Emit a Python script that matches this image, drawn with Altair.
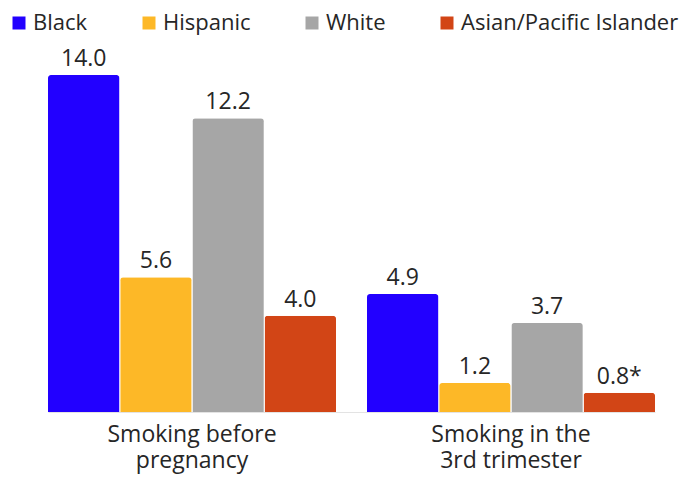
import altair as alt
import pandas as pd

groups = ["Smoking before|pregnancy", "Smoking in the|3rd trimester"]
series = ["Black", "Hispanic", "White", "Asian/Pacific Islander"]
values_before = [14.0, 5.6, 12.2, 4.0]
values_third = [4.9, 1.2, 3.7, 0.8]
labels_before = ["14.0", "5.6", "12.2", "4.0"]
labels_third = ["4.9", "1.2", "3.7", "0.8*"]
colors = ["#2200FF", "#FDB827", "#A6A6A6", "#D24516"]

rows = []
for g, vals, labs in [(groups[0], values_before, labels_before), (groups[1], values_third, labels_third)]:
    for s, v, l in zip(series, vals, labs):
        rows.append({"group": g, "series": s, "value": v, "label": l})
df = pd.DataFrame(rows)

FONT = "Open Sans"
TXT = "#262626"

x = alt.X("group:N", sort=groups, title=None,
          scale=alt.Scale(paddingInner=0.097, paddingOuter=0),
          axis=alt.Axis(labelExpr="split(datum.value, '|')", labelAngle=0,
                        labelFontSize=23, labelFont=FONT, labelColor=TXT,
                        labelLineHeight=26, labelPadding=11, ticks=False,
                        domain=True, domainColor="#E3E3E3", labelBaseline="top"))
xo = alt.XOffset("series:N", sort=series, scale=alt.Scale(paddingInner=0.01))
y = alt.Y("value:Q", scale=alt.Scale(domain=[0, 14], nice=False), axis=None)

bars = alt.Chart(df).mark_bar(cornerRadiusTopLeft=3, cornerRadiusTopRight=3).encode(
    x=x, xOffset=xo, y=y,
    color=alt.Color("series:N", sort=series,
                    scale=alt.Scale(domain=series, range=colors),
                    legend=alt.Legend(title=None, orient="none", direction="horizontal",
                                      legendX=-40, legendY=-63,
                                      symbolType="square", symbolSize=169,
                                      symbolStrokeWidth=0, symbolOpacity=1,
                                      labelFontSize=22, labelFont=FONT, labelColor=TXT,
                                      labelOffset=3, columnPadding=50, labelLimit=400))
)

text = alt.Chart(df).mark_text(dy=-9, baseline="alphabetic", fontSize=23, font=FONT, color=TXT).encode(
    x=alt.X("group:N", sort=groups), xOffset=xo, y=y, text="label:N"
)

chart = alt.layer(bars, text).properties(
    width=607, height=337,
    autosize=alt.AutoSizeParams(type="none"),
    padding={"left": 40, "top": 67, "right": 26, "bottom": 62},
).configure_view(stroke=None)

chart.save("out.html", embed_options={"renderer": "svg", "actions": False})
